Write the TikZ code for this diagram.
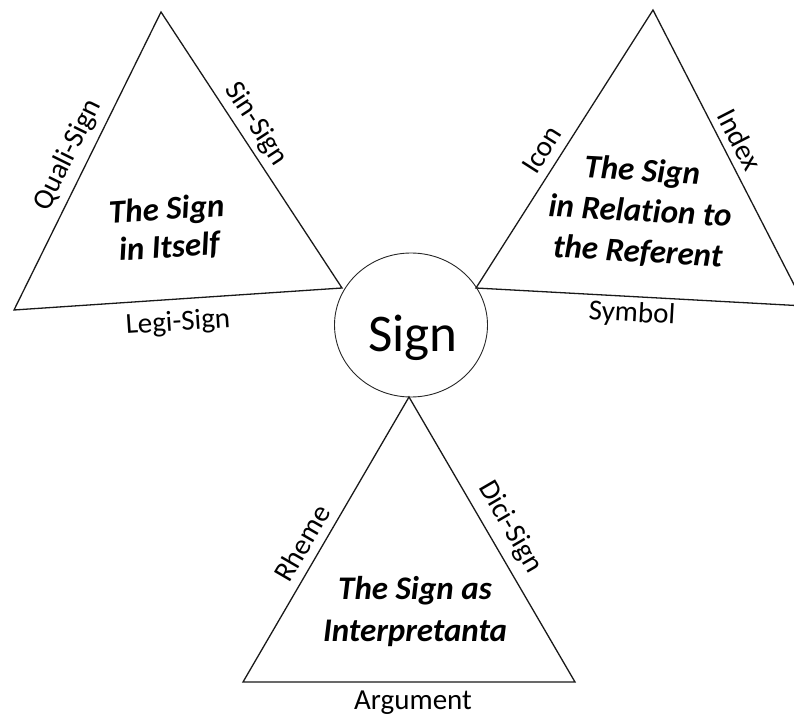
\documentclass[tikz,border=0pt]{standalone}
\usepackage{fontspec}
\setmainfont[Ligatures=NoCommon]{Carlito}
\usetikzlibrary{shapes.geometric}
\begin{document}
\begin{tikzpicture}[x=1pt,y=-1pt,
  tri/.style={draw=black!90, line width=1.3pt, line join=miter},
  lbl/.style={font=\fontsize{29}{34}\selectfont, inner sep=0pt, text=black},
  ttl/.style={font=\fontsize{33}{40}\selectfont\bfseries\itshape, align=center, inner sep=0pt},
]
\clip (0,0) rectangle (794,719);
% centre
\node[draw=black!85, line width=0.9pt, ellipse, minimum width=153, minimum height=144, inner sep=0pt] (sign) at (411,325) {};
\node[anchor=base, font=\fontsize{53}{60}\selectfont, inner sep=0pt] (signtext) at (413,351) {Sign};
% left triangle
\coordinate (LA) at (161,12);
\coordinate (LB) at (14,310);
\coordinate (LC) at (342,288);
\draw[tri] (LA) -- (LB) -- (LC) -- cycle;
\node[ttl, rotate=3.8, font=\fontsize{33}{38}\selectfont\bfseries\itshape] (ltitle) at (168,229) {The Sign\\in Itself};
\node[lbl, rotate=63.7] (quali) at (68,155) {Quali-Sign};
\node[lbl, rotate=-56.7] (sin) at (256,124) {Sin-Sign};
\node[lbl, rotate=3.8] (legi) at (178,323) {Legi-Sign};
% right triangle
\coordinate (RA) at (653,10);
\coordinate (RB) at (476,288);
\coordinate (RC) at (805,306);
\draw[tri] (RA) -- (RB) -- (RC) -- cycle;
\node[ttl, rotate=-3.2, font=\fontsize{33}{40.5}\selectfont\bfseries\itshape] (rtitle) at (640,212) {The Sign\\in Relation to\\the Referent};
\node[lbl, rotate=57.5] (icon) at (542,150) {Icon};
\node[lbl, rotate=-62.8] (index) at (740,140) {Index};
\node[lbl, rotate=-3.2] (symbol) at (632,314) {Symbol};
% bottom triangle
\coordinate (BA) at (409,397);
\coordinate (BB) at (243,682);
\coordinate (BC) at (575,682);
\draw[tri] (BA) -- (BB) -- (BC) -- cycle;
\node[ttl, font=\fontsize{33}{42}\selectfont\bfseries\itshape] (btitle) at (415,612) {The Sign as\\Interpretanta};
\node[lbl, rotate=59.8] (rheme) at (302,543) {Rheme};
\node[lbl, rotate=-59.8] (dici) at (510,527) {Dici-Sign};
\node[lbl] (argument) at (413,703) {Argument};
\end{tikzpicture}
\end{document}
